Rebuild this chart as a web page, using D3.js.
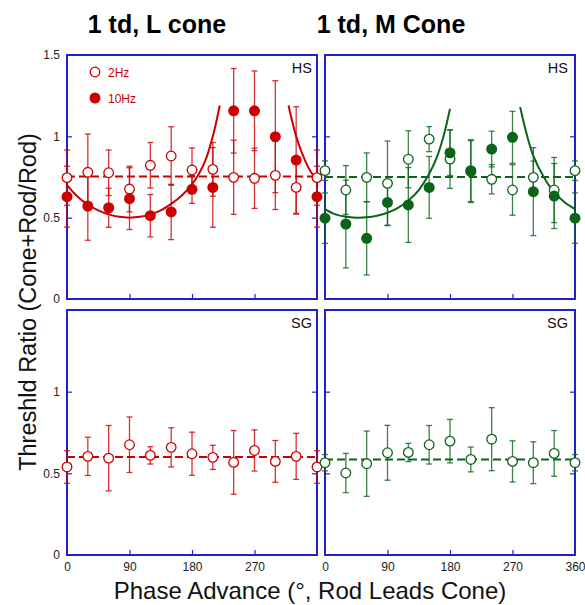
<!DOCTYPE html>
<html><head><meta charset="utf-8">
<script src="https://cdn.jsdelivr.net/npm/d3@7"></script>
<style>body{margin:0;background:#fff}svg{display:block}text{font-family:"Liberation Sans",Arial,sans-serif}</style>
</head><body><svg id="c" width="585" height="605"></svg>
<script>
// ---------- data ----------
const phases = [0,30,60,90,120,150,180,210,240,270,300,330,360];
const xTicks = [90,180,270];
const xLabelsLeft = [0,90,180,270];
const xLabelsRight = [0,90,180,270,360];
const yLabelsTop = [0,0.5,1,1.5];
const yLabelsBottom = [0,0.5,1];
const yTicks = [0.5,1];
const columnTitles = ["1 td, L cone","1 td, M Cone"];
const legendLabels = ["2Hz","10Hz"];

// L cone, HS
const lHS2    = [0.746,0.779,0.776,0.676,0.822,0.879,0.793,0.797,0.748,0.742,0.760,0.686,0.746];
const lHS2Err = [0.170,0.235,0.140,0.140,0.140,0.180,0.135,0.165,0.228,0.185,0.210,0.164,0.170];
const lHS10    = [0.629,0.571,0.561,0.617,0.512,0.535,0.674,0.686,1.157,1.157,0.998,0.854,0.629];
const lHS10Err = [0.187,0.210,0.120,0.190,0.130,0.170,0.086,0.245,0.260,0.245,0.344,0.328,0.187];
const lHSMean = 0.753;
const lHSFitA = [[0,0.70],[15,0.63],[30,0.58],[45,0.545],[60,0.52],[75,0.505],[90,0.50],[105,0.505],[120,0.52],[135,0.545],[150,0.585],[165,0.635],[180,0.705],[190,0.77],[200,0.86],[210,1.00],[220,1.19]];
const lHSFitB = [[319,1.19],[325,1.08],[330,1.00],[340,0.88],[350,0.79],[360,0.73]];

// M cone, HS
const mHS2    = [0.789,0.670,0.748,0.711,0.859,0.983,0.860,0.783,0.736,0.670,0.748,0.670,0.789];
const mHS2Err = [0.060,0.150,0.150,0.260,0.175,0.077,0.180,0.190,0.090,0.155,0.100,0.200,0.060];
const mHS10    = [0.497,0.461,0.373,0.594,0.578,0.686,0.899,0.789,0.922,0.994,0.660,0.633,0.497];
const mHS10Err = [0.155,0.270,0.225,0.140,0.230,0.190,0.140,0.190,0.110,0.160,0.270,0.200,0.155];
const mHSMean = 0.75;
const mHSFitA = [[0,0.553],[15,0.52],[30,0.505],[45,0.50],[60,0.502],[75,0.512],[90,0.53],[105,0.56],[120,0.605],[135,0.67],[150,0.77],[160,0.86],[170,0.99],[180,1.17]];
const mHSFitB = [[281,1.18],[290,1.02],[300,0.88],[315,0.75],[330,0.655],[345,0.595],[360,0.553]];

// L cone, SG
const lSG2    = [0.539,0.604,0.593,0.675,0.610,0.659,0.620,0.598,0.567,0.640,0.573,0.604,0.539];
const lSG2Err = [0.100,0.117,0.200,0.170,0.053,0.120,0.132,0.074,0.195,0.126,0.128,0.141,0.100];
const lSGMean = 0.60;

// M cone, SG
const mSG2    = [0.565,0.502,0.559,0.626,0.628,0.675,0.697,0.585,0.709,0.573,0.565,0.622,0.565];
const mSG2Err = [0.050,0.120,0.200,0.168,0.056,0.118,0.133,0.076,0.193,0.126,0.128,0.140,0.050];
const mSGMean = 0.585;

// ---------- drawing ----------
const RED = "#cc0000", GREEN = "#0b6419", BLUE = "#2121cc";
const svg = d3.select("#c");

const cols = [[67,317],[325,575]];
const rows = [[299,55],[555,310]];
const titleX = [157,391];

const panels = [
  {c:0,r:0,color:RED,label:"HS",mean:lHSMean,s2:lHS2,e2:lHS2Err,s10:lHS10,e10:lHS10Err,fits:[lHSFitA,lHSFitB],legend:true},
  {c:1,r:0,color:GREEN,label:"HS",mean:mHSMean,s2:mHS2,e2:mHS2Err,s10:mHS10,e10:mHS10Err,fits:[mHSFitA,mHSFitB]},
  {c:0,r:1,color:RED,label:"SG",mean:lSGMean,s2:lSG2,e2:lSG2Err},
  {c:1,r:1,color:GREEN,label:"SG",mean:mSGMean,s2:mSG2,e2:mSG2Err}
];

// titles
columnTitles.forEach((t,i)=>{
  svg.append("text").attr("x",titleX[i]).attr("y",33)
    .attr("text-anchor","middle").attr("font-size",25).attr("font-weight","bold").attr("fill","#000").text(t);
});

panels.forEach(p=>{
  const x = d3.scaleLinear().domain([0,360]).range(cols[p.c]);
  const y = d3.scaleLinear().domain([0,1.5]).range(rows[p.r]);
  const g = svg.append("g");
  const [x0,x1] = x.range(), [yb,yt] = y.range();

  // inward ticks
  const tk = g.append("g");
  tk.append("g").attr("transform",`translate(0,${yb})`)
    .call(d3.axisBottom(x).tickValues(xTicks).tickSize(-5).tickFormat(""));
  tk.append("g").attr("transform",`translate(${x0},0)`)
    .call(d3.axisLeft(y).tickValues(yTicks).tickSize(-5).tickFormat(""));
  tk.append("g").attr("transform",`translate(${x1},0)`)
    .call(d3.axisRight(y).tickValues(yTicks).tickSize(-5).tickFormat(""));
  tk.selectAll(".domain").remove();
  tk.selectAll("line").attr("stroke",BLUE).attr("stroke-width",1.2);

  // labels
  if (p.r===1) {
    const a = g.append("g").attr("transform",`translate(0,${yb})`)
      .call(d3.axisBottom(x).tickValues(p.c===0?xLabelsLeft:xLabelsRight).tickSize(0).tickPadding(7).tickFormat(d3.format("d")));
    a.select(".domain").remove();
    a.selectAll("text").attr("font-size",12).attr("fill","#222").attr("font-family","Liberation Sans, Arial, sans-serif");
  }
  if (p.c===0) {
    const a = g.append("g").attr("transform",`translate(${x0},0)`)
      .call(d3.axisLeft(y).tickValues(p.r===0?yLabelsTop:yLabelsBottom).tickSize(0).tickPadding(7).tickFormat(d=>String(d)));
    a.select(".domain").remove();
    a.selectAll("text").attr("font-size",12).attr("fill","#222").attr("font-family","Liberation Sans, Arial, sans-serif");
  }

  // border
  g.append("rect").attr("x",x0).attr("y",yt).attr("width",x1-x0).attr("height",yb-yt)
    .attr("fill","none").attr("stroke",BLUE).attr("stroke-width",2);

  // panel label
  g.append("text").attr("x",x1-(p.c===0?5:7)).attr("y",yt+18).attr("text-anchor","end")
    .attr("font-size",14.5).attr("fill","#111").text(p.label);

  // mean dashed line
  g.append("line").attr("x1",x0).attr("x2",x1).attr("y1",y(p.mean)).attr("y2",y(p.mean))
    .attr("stroke",p.color).attr("stroke-width",2).attr("stroke-dasharray","8,4");

  // fits
  if (p.fits) {
    const line = d3.line().x(d=>x(d[0])).y(d=>y(d[1])).curve(d3.curveCatmullRom);
    p.fits.forEach(f=>g.append("path").attr("d",line(f)).attr("fill","none")
      .attr("stroke",p.color).attr("stroke-width",2));
  }

  // error bars
  const series = [{v:p.s2,e:p.e2,filled:false}];
  if (p.s10) series.push({v:p.s10,e:p.e10,filled:true});
  series.forEach(s=>{
    const eb = g.append("g").attr("stroke",p.color).attr("stroke-width",1.3).attr("stroke-opacity",0.8);
    phases.forEach((ph,i)=>{
      const cx = x(ph), lo = y(s.v[i]-s.e[i]), hi = y(s.v[i]+s.e[i]);
      eb.append("line").attr("x1",cx).attr("x2",cx).attr("y1",lo).attr("y2",hi);
      eb.append("line").attr("x1",cx-3).attr("x2",cx+3).attr("y1",lo).attr("y2",lo);
      eb.append("line").attr("x1",cx-3).attr("x2",cx+3).attr("y1",hi).attr("y2",hi);
    });
  });
  // markers
  series.forEach(s=>{
    g.append("g").selectAll("circle").data(phases).join("circle")
      .attr("cx",d=>x(d)).attr("cy",(d,i)=>y(s.v[i]))
      .attr("r",s.filled?5.5:4.8)
      .attr("fill",s.filled?p.color:"#fff")
      .attr("stroke",p.color).attr("stroke-width",s.filled?0:1.3);
  });

  // legend
  if (p.legend) {
    const lg = g.append("g");
    lg.append("circle").attr("cx",95).attr("cy",72).attr("r",4.8).attr("fill","#fff").attr("stroke",p.color).attr("stroke-width",1.3);
    lg.append("circle").attr("cx",95).attr("cy",98).attr("r",5.5).attr("fill",p.color);
    lg.append("text").attr("x",108).attr("y",76.5).attr("font-size",12).attr("fill",p.color).text(legendLabels[0]);
    lg.append("text").attr("x",108).attr("y",102.5).attr("font-size",12).attr("fill",p.color).text(legendLabels[1]);
  }
});

// axis titles
svg.append("text").attr("x",310).attr("y",599).attr("text-anchor","middle")
  .attr("font-size",24).attr("fill","#111").text("Phase Advance (°, Rod Leads Cone)");
svg.append("text").attr("transform","translate(36,302) rotate(-90)").attr("text-anchor","middle")
  .attr("font-size",23.5).attr("fill","#111").text("Threshld Ratio (Cone+Rod/Rod)");
</script></body></html>
